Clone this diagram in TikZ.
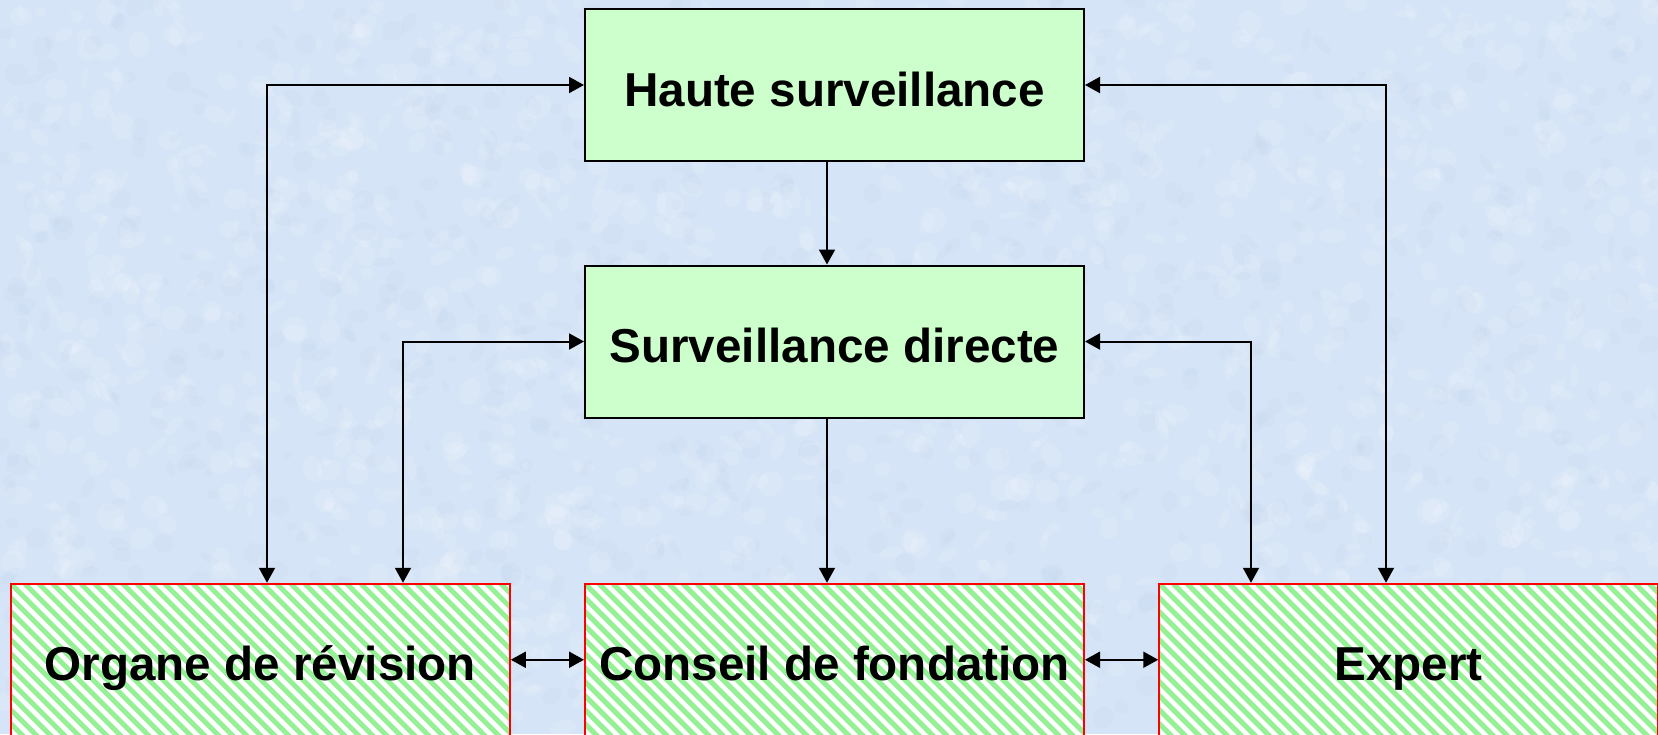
\documentclass[tikz,border=0pt]{standalone}
\usepackage{fontspec}
\setmainfont{Liberation Sans}
\usetikzlibrary{arrows.meta}

\definecolor{paper}{RGB}{213,228,246}
\definecolor{paperdark}{RGB}{192,211,238}
\definecolor{boxgreen}{RGB}{204,255,204}
\definecolor{stripe}{RGB}{150,240,150}
\definecolor{frame}{RGB}{255,0,0}

\tikzset{
  label font/.style={font=\fontsize{47.6}{57}\selectfont\bfseries,
    text height=52pt, text depth=10pt},
  topbox/.style={draw=black, line width=2pt, fill=boxgreen,
    minimum width=499pt, minimum height=152pt, inner sep=0pt, label font},
  basebox/.style={draw=frame, line width=2pt, fill=white,
    minimum width=499pt, minimum height=152pt, inner sep=0pt, label font,
    path picture={
      \foreach \k in {-15,...,40}
        \draw[stripe, line width=5pt]
          ([xshift=\k*14pt]path picture bounding box.north west)
          -- ++(220pt,-220pt);
    }},
  tip/.tip={Triangle[length=15pt,width=16pt]},
  feed/.style={line width=2pt, -tip},
  link/.style={line width=2pt, tip-tip},
}

\begin{document}
\begin{tikzpicture}[x=1pt, y=-1pt]
  \useasboundingbox (0,0) rectangle (1658,734);
  \clip (0,0) rectangle (1658,734);

  % mottled paper background
  \fill[paper] (0,0) rectangle (1658,734);
  \pgfmathsetseed{12}
  \foreach \i in {1,...,1400}{
    \pgfmathsetmacro{\px}{rnd*1658}
    \pgfmathsetmacro{\py}{rnd*734}
    \pgfmathsetmacro{\pa}{3+rnd*11}
    \pgfmathsetmacro{\pb}{3+rnd*11}
    \pgfmathsetmacro{\pt}{rnd*180}
    \fill[white, opacity=0.14, rotate around={\pt:(\px,\py)}]
      (\px,\py) ellipse[x radius=\pa pt, y radius=\pb pt];
  }
  \foreach \i in {1,...,900}{
    \pgfmathsetmacro{\px}{rnd*1658}
    \pgfmathsetmacro{\py}{rnd*734}
    \pgfmathsetmacro{\pa}{3+rnd*9}
    \pgfmathsetmacro{\pb}{3+rnd*9}
    \pgfmathsetmacro{\pt}{rnd*180}
    \fill[paperdark, opacity=0.14, rotate around={\pt:(\px,\py)}]
      (\px,\py) ellipse[x radius=\pa pt, y radius=\pb pt];
  }

  % supervisory bodies
  \node[topbox] (haute)   at (834.5,85)    {Haute surveillance};
  \node[topbox] (directe) at (834.5,341.5) {Surveillance directe};

  % bodies of the foundation
  \node[basebox] (organe)  at (260.3,659.75)  {Organe de révision};
  \node[basebox] (conseil) at (834.5,659.75)  {Conseil de fondation};
  \node[basebox] (expert)  at (1408.75,659.75) {Expert};

  % columns of the vertical connectors
  \coordinate (xa) at (267,0);
  \coordinate (xb) at (403,0);
  \coordinate (xc) at (827,0);
  \coordinate (xd) at (1251,0);
  \coordinate (xe) at (1386,0);

  \draw[feed] (haute.south -| xc) -- (directe.north -| xc);
  \draw[feed] (directe.south -| xc) -- (conseil.north -| xc);

  \draw[link] (haute.west) -| (organe.north -| xa);
  \draw[link] (directe.west) -| (organe.north -| xb);
  \draw[link] (haute.east) -| (expert.north -| xe);
  \draw[link] (directe.east) -| (expert.north -| xd);

  \draw[link] (organe.east) -- (conseil.west);
  \draw[link] (conseil.east) -- (expert.west);
\end{tikzpicture}
\end{document}
